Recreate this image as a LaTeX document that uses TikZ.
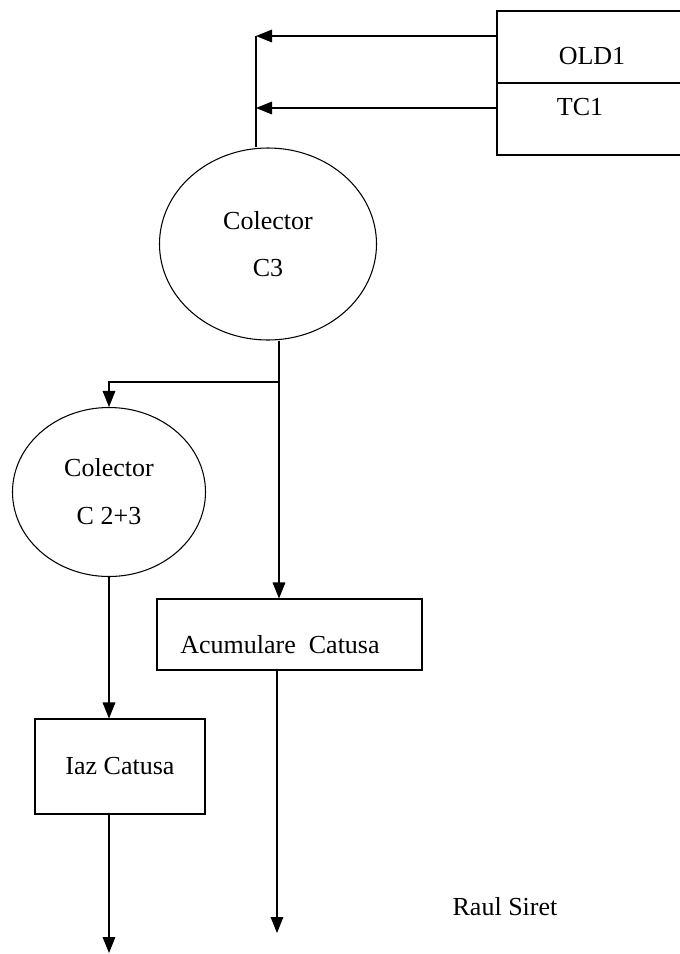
\documentclass[tikz,border=0pt]{standalone}
\usepackage{fontspec}
\setmainfont{Liberation Serif}
\usetikzlibrary{
arrows.meta,
positioning,
shapes
}
\tikzset{>={Triangle[length=12pt,width=9.5pt]}}

\begin{document}
\begin{tikzpicture}[x=0.75pt, y=-0.75pt, line width=0.8pt, font=\fontsize{19.5}{23}\selectfont,
	collector/.style={
		ellipse,
		draw,
		align=center,
		inner sep=0pt
	},
	stage/.style={
		rectangle,
		draw,
		align=center,
		inner sep=0pt
	}]
		\useasboundingbox (0,0) rectangle (680,954);

		\node[stage,minimum width=174.75pt,minimum height=108pt]        (sources) at (613.5,83)  {};
		\node                                                           (old1)    at (592,56)    {OLD1};
		\node                                                           (tc1)     at (580,107)   {TC1};
		\coordinate                                                     (oldout)  at (497,36);
		\coordinate                                                     (tcout)   at (497,108);
		\coordinate                                                     (trunk)   at (256,36);
		\node[collector,minimum width=162.75pt,minimum height=144pt]    (c3)      at (268,244)   {Colector\\[12pt]C3};
		\coordinate                                                     (split)   at (279,382);
		\node[collector,minimum width=144.75pt,minimum height=126.75pt] (c23)     at (109,492)   {Colector\\[13pt]C 2+3};
		\node[stage,minimum width=198.75pt,minimum height=53.25pt]      (acc)     at (289.5,634.5) {};
		\node                                                           (acctext) at (280,645)   {Acumulare\ \ Catusa};
		\node[stage,minimum width=127.5pt,minimum height=71.25pt]       (iaz)     at (120,766.5) {Iaz Catusa};
		\coordinate                                                     (accend)  at (277,933);
		\coordinate                                                     (iazend)  at (109,953);
		\node                                                           (author)  at (505,907)   {Raul Siret};

		\draw     (sources.west)      -- (sources.east);
		\draw[->] (oldout)            -- (oldout -| trunk);
		\draw[->] (tcout)             -- (tcout -| trunk);
		\draw     (trunk)             -- (trunk |- c3.north);
		\draw[->] (c3.south -| split) -- (split |- acc.north);
		\draw[->] (split)             -- (split -| c23.north) -- (c23.north);
		\draw[->] (c23.south)         -- (c23.south |- iaz.north);
		\draw[->] (iazend |- iaz.south) -- (iazend);
		\draw[->] (accend |- acc.south) -- (accend);
	\end{tikzpicture}
\end{document}
